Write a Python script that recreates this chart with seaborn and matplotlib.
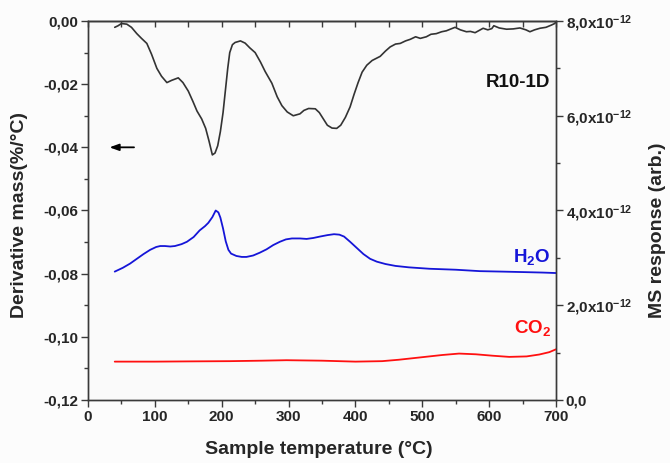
import numpy as np
import pandas as pd
import matplotlib
matplotlib.use("Agg")
import matplotlib.pyplot as plt
import seaborn as sns
from matplotlib.ticker import MultipleLocator, FuncFormatter, FixedLocator

# ---- data ----
dtg_T = [40, 45, 50, 58, 65, 73, 80, 88, 95, 103, 110, 118, 125, 135, 142, 150, 157, 163, 170, 176,
         181, 186, 190, 194, 198, 202, 206, 209, 212, 216, 220, 228, 235, 242, 250, 258, 265, 275, 283,
         290, 298, 307, 317, 323, 330, 340, 346, 352, 358, 365, 372, 378, 385, 392, 398, 404, 410, 417,
         425, 437, 445, 452, 460, 467, 475, 482, 490, 497, 506, 513, 521, 529, 536, 543, 549, 557, 566,
         572, 579, 585, 591, 598, 604, 607, 615, 626, 636, 646, 655, 661, 668, 676, 685, 693, 698, 700]
dtg_val = [-0.0020, -0.0015, -0.0008, -0.0010, -0.0020, -0.0040, -0.0055, -0.0071, -0.0105, -0.0150,
           -0.0175, -0.0195, -0.0188, -0.0180, -0.0195, -0.0222, -0.0255, -0.0285, -0.0310, -0.0340,
           -0.0380, -0.0424, -0.0418, -0.0395, -0.0350, -0.0290, -0.0210, -0.0150, -0.0100, -0.0075,
           -0.0068, -0.0063, -0.0070, -0.0085, -0.0100, -0.0130, -0.0160, -0.0197, -0.0240, -0.0268,
           -0.0288, -0.0300, -0.0294, -0.0283, -0.0277, -0.0278, -0.0290, -0.0310, -0.0330, -0.0339,
           -0.0340, -0.0330, -0.0305, -0.0272, -0.0232, -0.0195, -0.0162, -0.0140, -0.0125, -0.0112,
           -0.0095, -0.0082, -0.0073, -0.0071, -0.0063, -0.0058, -0.0050, -0.0055, -0.0050, -0.0042,
           -0.0040, -0.0034, -0.0031, -0.0025, -0.0020, -0.0028, -0.0034, -0.0033, -0.0037, -0.0030,
           -0.0023, -0.0028, -0.0024, -0.0015, -0.0022, -0.0026, -0.0025, -0.0022, -0.0028, -0.0034,
           -0.0028, -0.0023, -0.0020, -0.0013, -0.0008, -0.0003]

h2o_T = [40, 52, 63, 73, 83, 93, 102, 108, 115, 123, 130, 140, 148, 158, 167, 175, 180, 186, 191, 195,
         198, 202, 206, 210, 214, 222, 230, 237, 247, 257, 267, 277, 287, 296, 305, 317, 327, 337, 347,
         358, 368, 376, 383, 392, 402, 412, 422, 432, 445, 460, 480, 511, 550, 586, 620, 651, 680, 700]
h2o_val = [2.71, 2.79, 2.88, 2.98, 3.08, 3.17, 3.23, 3.25, 3.25, 3.24, 3.25, 3.29, 3.34, 3.44, 3.58,
           3.67, 3.74, 3.86, 4.00, 3.96, 3.85, 3.62, 3.35, 3.17, 3.09, 3.04, 3.02, 3.02, 3.05, 3.11,
           3.18, 3.27, 3.34, 3.39, 3.41, 3.41, 3.40, 3.42, 3.45, 3.48, 3.50, 3.49, 3.45, 3.34, 3.21,
           3.08, 2.98, 2.92, 2.87, 2.83, 2.80, 2.77, 2.75, 2.72, 2.71, 2.70, 2.69, 2.68]

co2_T = [40, 100, 150, 212, 260, 297, 350, 400, 440, 465, 504, 530, 555, 580, 605, 630, 656, 675, 690, 700]
co2_val = [0.81, 0.81, 0.815, 0.82, 0.83, 0.84, 0.83, 0.81, 0.82, 0.85, 0.91, 0.95, 0.98, 0.965, 0.935,
           0.91, 0.92, 0.96, 1.01, 1.07]

ms_scale = 1e-12
x_ticks = [0, 100, 200, 300, 400, 500, 600, 700]
left_ticks = [0.00, -0.02, -0.04, -0.06, -0.08, -0.10, -0.12]
right_ticks_units = [0, 2, 4, 6, 8]

# ---- style ----
sns.set_style("ticks")
plt.rcParams['font.family'] = ['Liberation Sans', 'DejaVu Sans']
plt.rcParams['font.weight'] = 'bold'
plt.rcParams['mathtext.fontset'] = 'custom'
plt.rcParams['mathtext.rm'] = 'Liberation Sans:bold'
plt.rcParams['mathtext.bf'] = 'Liberation Sans:bold'
plt.rcParams['mathtext.it'] = 'Liberation Sans:bold'
plt.rcParams['mathtext.default'] = 'rm'

spine_c = '#3a3a3a'
tick_fs = 11
label_fs = 14
fig = plt.figure(figsize=(6.7, 4.63), dpi=100, facecolor='#fcfcfc')
ax = fig.add_axes([88/670, 63/463, 468/670, 379/463])
ax.set_facecolor('#fafafa')
ax2 = ax.twinx()

dtg_df = pd.DataFrame({'T': dtg_T, 'v': dtg_val})
h2o_df = pd.DataFrame({'T': h2o_T, 'v': np.array(h2o_val) * ms_scale})
co2_df = pd.DataFrame({'T': co2_T, 'v': np.array(co2_val) * ms_scale})

sns.lineplot(data=dtg_df, x='T', y='v', ax=ax, color='#333333', lw=1.2, sort=False, errorbar=None)
sns.lineplot(data=h2o_df, x='T', y='v', ax=ax2, color='#1515d8', lw=1.3, sort=False, errorbar=None)
sns.lineplot(data=co2_df, x='T', y='v', ax=ax2, color='#ff1010', lw=1.3, sort=False, errorbar=None)

ax.set_xlim(0, 700)
ax.set_ylim(-0.12, 0.0)
ax2.set_ylim(0, 8e-12)

ax.set_xlabel('')
ax.set_ylabel('')
ax2.set_ylabel('')

ax.xaxis.set_major_locator(FixedLocator(x_ticks))
ax.xaxis.set_minor_locator(MultipleLocator(50))
ax.yaxis.set_major_locator(FixedLocator(left_ticks))
ax.yaxis.set_minor_locator(MultipleLocator(0.01))
ax.yaxis.set_major_formatter(FuncFormatter(lambda v, p: f"{v:.2f}".replace('.', ',').replace('-0,00', '0,00')))
ax.xaxis.set_major_formatter(FuncFormatter(lambda v, p: f"{int(round(v))}"))

ax2.yaxis.set_major_locator(FixedLocator([t * ms_scale for t in right_ticks_units]))
ax2.yaxis.set_minor_locator(MultipleLocator(1e-12))


def rfmt(v, p):
    u = v / ms_scale
    if abs(u) < 1e-9:
        return '0,0'
    return f"{u:.1f}".replace('.', ',') + r'x10$^{-12}$'


ax2.yaxis.set_major_formatter(FuncFormatter(rfmt))
ax2.yaxis.get_offset_text().set_visible(False)

for a in (ax, ax2):
    for s in a.spines.values():
        s.set_color(spine_c)
        s.set_linewidth(1.0)
        s.set_visible(True)

ax.tick_params(axis='both', which='major', direction='out', length=5, width=1.0, color=spine_c,
               labelsize=tick_fs, pad=2)
ax.tick_params(axis='both', which='minor', direction='out', length=3, width=1.0, color=spine_c)
ax2.tick_params(axis='y', which='major', direction='out', length=5, width=1.0, color=spine_c,
                labelsize=tick_fs, pad=2)
ax2.tick_params(axis='y', which='minor', direction='out', length=3, width=1.0, color=spine_c)
for lab in ax.get_xticklabels() + ax.get_yticklabels() + ax2.get_yticklabels():
    lab.set_fontweight('bold')

sec = ax.secondary_xaxis('top')
sec.xaxis.set_major_locator(MultipleLocator(50))
sec.tick_params(axis='x', which='major', direction='in', length=4.5, width=1.0, color=spine_c,
                labeltop=False)
sec.spines['top'].set_color(spine_c)
sec.spines['top'].set_linewidth(1.0)

# labels
fig.text(20/670, 1 - 215/463, 'Derivative mass(%/°C)', rotation=90, ha='center', va='center',
         fontsize=label_fs, fontweight='bold')
fig.text(657/670, 1 - 230/463, 'MS response (arb.)', rotation=90, ha='center', va='center',
         fontsize=label_fs, fontweight='bold')
fig.text(319/670, 1 - 450/463, 'Sample temperature (°C)', ha='center', va='center',
         fontsize=label_fs, fontweight='bold')

ax.text(0.987, 0.839, 'R10-1D', transform=ax.transAxes, ha='right', va='center',
        fontsize=13.5, fontweight='bold', color='#111111')
ax.text(0.987, 0.377, r'H$_2$O', transform=ax.transAxes, ha='right', va='center',
        fontsize=13.5, fontweight='bold', color='#1515d8')
ax.text(0.99, 0.19, r'CO$_2$', transform=ax.transAxes, ha='right', va='center',
        fontsize=13.5, fontweight='bold', color='#ff1010')

ax.annotate('', xy=(28, -0.040), xytext=(73, -0.040),
            arrowprops=dict(arrowstyle='-|>,head_length=0.55,head_width=0.2', color='black', lw=1.3))

fig.savefig('out.png', dpi=100, facecolor=fig.get_facecolor())
